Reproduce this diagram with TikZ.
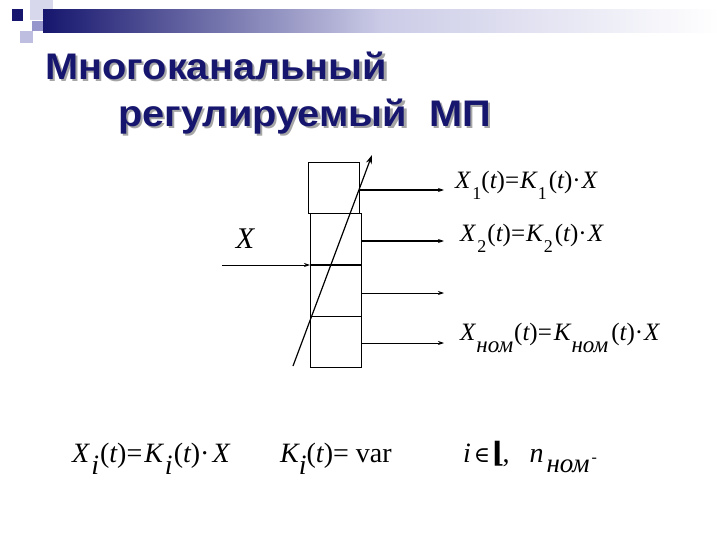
\documentclass[tikz,border=0pt]{standalone}
\usepackage{fontspec}
\setmainfont{Liberation Serif}
\newfontfamily\titlefont{Liberation Sans}
\newfontfamily\symfont{DejaVu Serif}
\usetikzlibrary{arrows.meta,shadings}
\definecolor{navy}{RGB}{22,22,110}
\definecolor{lav}{RGB}{190,190,225}
\definecolor{lavd}{RGB}{150,150,205}
\newcommand\lsub[2][11pt]{\raisebox{-#1}{#2}}
\newcommand\rp[1]{{\upshape(}#1{\upshape)}}
\newcommand\subsz{\fontsize{18}{20}\selectfont}
\newcommand\nomsz{\fontsize{23}{24}\selectfont}
\newcommand\shadowtxt[1]{\rlap{\kern2pt\raisebox{-2pt}{\textcolor{black!35}{#1}}}\textcolor{navy}{#1}}
\begin{document}
\begin{tikzpicture}[x=1pt,y=-1pt,
  blockbox/.style={draw,line width=0.8pt,minimum width=51pt,inner sep=0pt,outer sep=0pt},
  thinarrow/.style={line width=0.8pt,-{Stealth[length=6pt,width=4pt]}},
  thickarrow/.style={line width=1.6pt,-{Stealth[length=6pt,width=4pt]}},
  eq/.style={anchor=base west,inner sep=0pt,font=\fontsize{25}{27}\selectfont\itshape},
  eqb/.style={anchor=base west,inner sep=0pt,font=\fontsize{28}{30}\selectfont\itshape},
  titletxt/.style={anchor=base west,inner sep=0pt,xscale=1.075,font=\titlefont\bfseries\fontsize{37}{40}\selectfont}]
\useasboundingbox (0,0) rectangle (720,540);
% decoration
\fill[lav!60] (30,0) rectangle (53,20);
\fill[navy] (12,9) rectangle (23,21);
\fill[lavd] (32,21) rectangle (43,31);
\fill[lav] (20,31) rectangle (33,43);
\shade[left color=navy,right color=white,middle color=lav!80] (43,10) rectangle (720,33);
% title
\node[titletxt] (t1) at (45,80) {\shadowtxt{Многоканальный}};
\node[titletxt] (t2) at (118,127) {\shadowtxt{регулируемый\ \ МП}};
% blocks
\node[blockbox,minimum height=51pt,anchor=north west] (b1) at (308,162) {};
\node[blockbox,minimum height=52pt,anchor=north west] (b2) at (310,213) {};
\node[blockbox,minimum height=51pt,anchor=north west] (b3) at (310,265) {};
\node[blockbox,minimum height=51pt,anchor=north west] (b4) at (310,316) {};
\draw[line width=1.6pt] (b2.south west) -- (b2.south east);
% input
\coordinate (in) at (222,265);
\draw[thinarrow] (in) -- (b2.south west);
\node[font=\fontsize{30}{32}\selectfont\itshape] (xin) at (245,239) {X};
% diagonal
\coordinate (d0) at (293,366);
\coordinate (d1) at (372,155);
\draw[line width=1.2pt,-{Stealth[length=9pt,width=6pt]}] (d0) -- (d1);
% outputs
\coordinate (o1) at (444,190);
\coordinate (o2) at (444,241);
\coordinate (o3) at (444,293);
\coordinate (o4) at (444,343);
\draw[thickarrow] (b1.east |- o1) -- (o1);
\draw[thickarrow] (b2.east |- o2) -- (o2);
\draw[thinarrow] (b3.east |- o3) -- (o3);
\draw[thinarrow] (b4.east |- o4) -- (o4);
% equations right
\node[eq] (e1) at (455,189) {X\kern2pt\lsub{\upshape\subsz 1}\rp{t}{\upshape =}\kern1pt K\kern1pt\lsub{\upshape\subsz 1}\kern2pt\rp{t}{\upshape ·}\kern1pt X};
\node[eq] (e2) at (460,241) {X\kern2pt\lsub{\upshape\subsz 2}\kern1pt\rp{t}{\upshape =}\kern1pt K\kern1pt\lsub{\upshape\subsz 2}\kern2pt\rp{t}{\upshape ·}\kern1pt X};
\node[eq] (e3) at (460,340) {X\kern1pt\lsub[12pt]{\nomsz ном}\kern1pt\rp{t}{\upshape =}\kern2pt K\kern1pt\lsub[12pt]{\nomsz ном}\kern3pt\rp{t}{\upshape ·}\kern1pt X};
% bottom
\node[eqb] (f1) at (72,462) {X\kern2pt\lsub[12pt]{i}\kern1pt\rp{t}{\upshape =}\kern2pt K\kern2pt\lsub[12pt]{i}\kern1pt\rp{t}{\upshape ·}\kern3pt X};
\node[eqb] (f2) at (280,462) {K\lsub[12pt]{i}\rp{t}{\upshape = var}};
\node[eqb] (f3) at (463,462) {i\kern3pt{\upshape\symfont\fontsize{22}{24}\selectfont∈}\kern1pt{\upshape\symfont\bfseries⌊}\kern-2pt{\upshape ,}\kern20pt n\kern3pt\lsub[10pt]{\fontsize{27}{28}\selectfont ном}{\upshape\fontsize{16}{16}\selectfont\kern2pt-}};
\end{tikzpicture}
\end{document}
